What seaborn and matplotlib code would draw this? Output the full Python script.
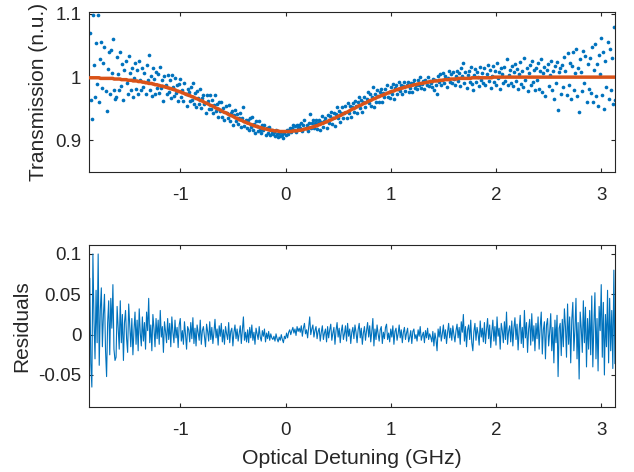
import numpy as np
import pandas as pd
import matplotlib
matplotlib.use("Agg")
import matplotlib.pyplot as plt
import seaborn as sns

# frequency sweep: 500 samples, 10 MHz apart, first sample at -1.86 GHz
sweep_start_ghz = -1.86
sweep_step_ghz = 0.01

# fitted transmission, in units of 1e-3 n.u.
fit_mnu = [
    999, 999, 999, 999, 999, 999, 999, 999, 999, 999, 998, 998, 998, 998, 998, 998, 998, 998, 998, 998, 998, 998, 998, 997, 997,
    997, 997, 997, 997, 997, 996, 996, 996, 996, 996, 996, 995, 995, 995, 995, 995, 994, 994, 994, 994, 994, 993, 993, 993, 993,
    992, 992, 992, 991, 991, 991, 990, 990, 990, 990, 989, 989, 988, 988, 988, 987, 987, 986, 986, 986, 985, 985, 984, 984, 983,
    983, 982, 982, 981, 981, 980, 980, 979, 978, 978, 977, 977, 976, 975, 975, 974, 973, 973, 972, 971, 971, 970, 969, 969, 968,
    967, 966, 966, 965, 964, 963, 963, 962, 961, 960, 959, 959, 958, 957, 956, 955, 955, 954, 953, 952, 951, 950, 950, 949, 948,
    947, 946, 945, 944, 944, 943, 942, 941, 940, 939, 939, 938, 937, 936, 935, 935, 934, 933, 932, 932, 931, 930, 929, 929, 928,
    927, 927, 926, 925, 925, 924, 923, 923, 922, 922, 921, 921, 920, 920, 919, 919, 918, 918, 918, 917, 917, 916, 916, 916, 916,
    915, 915, 915, 915, 915, 914, 914, 914, 914, 914, 914, 914, 914, 914, 914, 914, 914, 914, 915, 915, 915, 915, 915, 916, 916,
    916, 916, 917, 917, 918, 918, 918, 919, 919, 920, 920, 921, 921, 922, 922, 923, 923, 924, 925, 925, 926, 927, 927, 928, 929,
    929, 930, 931, 932, 932, 933, 934, 935, 935, 936, 937, 938, 939, 939, 940, 941, 942, 943, 944, 944, 945, 946, 947, 948, 949,
    950, 950, 951, 952, 953, 954, 955, 955, 956, 957, 958, 959, 959, 960, 961, 962, 963, 963, 964, 965, 966, 966, 967, 968, 969,
    969, 970, 971, 971, 972, 973, 973, 974, 975, 975, 976, 977, 977, 978, 978, 979, 980, 980, 981, 981, 982, 982, 983, 983, 984,
    984, 985, 985, 986, 986, 986, 987, 987, 988, 988, 988, 989, 989, 990, 990, 990, 990, 991, 991, 991, 992, 992, 992, 993, 993,
    993, 993, 994, 994, 994, 994, 994, 995, 995, 995, 995, 995, 996, 996, 996, 996, 996, 996, 997, 997, 997, 997, 997, 997, 997,
    998, 998, 998, 998, 998, 998, 998, 998, 998, 998, 998, 998, 998, 999, 999, 999, 999, 999, 999, 999, 999, 999, 999, 999, 999,
    999, 999, 999, 999, 999, 999, 999, 999, 1000, 1000, 1000, 1000, 1000, 1000, 1000, 1000, 1000, 1000, 1000, 1000, 1000, 1000, 1000, 1000, 1000,
    1000, 1000, 1000, 1000, 1000, 1000, 1000, 1000, 1000, 1000, 1000, 1000, 1000, 1000, 1000, 1000, 1000, 1000, 1000, 1000, 1000, 1000, 1000, 1000, 1000,
    1000, 1000, 1000, 1000, 1000, 1000, 1000, 1000, 1000, 1000, 1000, 1000, 1000, 1000, 1000, 1000, 1000, 1000, 1000, 1000, 1000, 1000, 1000, 1000, 1000,
    1000, 1000, 1000, 1000, 1000, 1000, 1000, 1000, 1000, 1000, 1000, 1000, 1000, 1000, 1000, 1000, 1000, 1000, 1000, 1000, 1000, 1000, 1000, 1000, 1000,
    1000, 1000, 1000, 1000, 1000, 1000, 1000, 1000, 1000, 1000, 1000, 1000, 1000, 1000, 1000, 1000, 1000, 1000, 1000, 1000, 1000, 1000, 1000, 1000, 1000,
]

# measured minus fit, in units of 1e-3 n.u.
residual_mnu = [
    70, -35, -65, 100, 20, -30, 55, -10, 100, -38, 30, 58, -15, 25, 50, -20, -52, 15, 42, -25, 45, 8, 62, -18, -32,
    -28, 35, 8, -18, 42, -10, 25, -32, 15, 30, -5, -22, 38, 12, -15, 20, -25, 5, 28, -12, 18, -20, 32, 2, -14,
    22, -8, 15, -18, 28, 5, 45, -10, 12, -20, 25, 8, -15, 20, -5, 18, -12, 30, -3, 10, -22, 16, 4, -10, 20,
    -6, 14, -15, 22, 3, -10, 18, -4, 9, -16, 12, 20, -8, 5, -12, 16, 0, -18, 10, 6, -9, 15, -5, 21, -11,
    8, -14, 12, 2, -7, 18, -12, 5, 10, -3, -15, 13, 4, -8, 16, -6, 9, -11, 3, 19, -4, 7, -13, 11, -2,
    14, -9, 6, -12, 10, 1, -6, 15, -10, 4, 8, -14, 3, 12, -5, 7, -8, 2, 11, -11, 5, 22, -7, 3, -9,
    6, -10, 9, -4, 12, -7, 3, -12, 8, 1, -6, 10, -3, -8, 5, -2, 7, -9, 2, -5, 4, -7, 1, -4, -6,
    -2, -8, 1, -5, -9, -3, -7, 0, -6, -10, -2, -5, 2, -4, 3, 6, 0, 5, 9, 2, 7, -1, 10, 4, 8,
    3, 11, -2, 8, 14, 1, 6, -4, 9, 22, 0, 7, 12, -3, 5, 10, -5, 4, 8, -8, 3, 11, -6, 2, 7,
    -9, 10, -4, 6, 13, -7, 2, 9, -12, 5, 15, -3, 8, -10, 4, 12, -6, 1, 11, -8, 14, -2, 7, -11, 3,
    9, -5, 12, 3, -10, 6, 14, -4, 8, -12, 2, 10, -7, 5, 15, -3, 11, -9, 4, 20, -14, 7, -6, 12, 1,
    -8, 6, 10, -11, 3, -5, 9, 13, -6, 2, -9, 7, -3, 11, -12, 4, 8, -7, 1, 12, -4, 6, -10, 3, 9,
    -6, 2, 8, -9, -3, 5, -11, 4, 7, -5, 0, -8, 6, -2, 10, -7, -1, 3, -10, 5, -4, 8, -6, 1, -3,
    -9, 4, -14, 2, -6, -20, 7, -3, 10, -8, 1, 12, -5, 6, -11, 3, 14, -4, 8, -7, 11, 0, -9, 5, 13,
    -4, 9, -12, 16, 3, 25, -8, 10, -15, 6, 12, -6, 18, -10, -20, 4, 14, -7, 9, 1, -13, 17, -3, 8, -9,
    15, -11, 6, 20, -5, 12, -16, 3, 18, -8, 10, -13, 22, -2, 8, -18, 14, 5, -10, 16, -6, 28, -12, 4, 11,
    -9, 17, -14, 8, 21, -6, 13, -19, 5, 24, -11, 9, -16, 30, -4, 15, -22, 7, 19, -13, 26, -8, 11, -20, 14,
    -5, 22, -18, 10, 28, -24, 6, 16, -30, 12, 20, -14, 3, 26, -20, 9, -35, 18, -10, 24, -52, 8, 14, -26, 19,
    -15, 32, 10, -28, 38, -12, 22, -35, 18, 40, -20, 6, 45, -30, 15, -55, 28, 8, -22, 42, -10, 34, -40, 20, -18,
    30, -25, 48, -40, 12, 52, -30, 20, -45, 35, 5, 62, -28, 40, -50, 25, -15, 55, -35, 45, -20, 30, -42, 80, -36,
]

x_ticks = [-1, 0, 1, 2, 3]
x_tick_labels = ["-1", "0", "1", "2", "3"]
top_y_ticks = [0.9, 1.0, 1.1]
top_y_tick_labels = ["0.9", "1", "1.1"]
bottom_y_ticks = [-0.05, 0, 0.05, 0.1]
bottom_y_tick_labels = ["-0.05", "0", "0.05", "0.1"]

BLUE = "#0072BD"
ORANGE = "#D95319"
INK = "#262626"

fit = np.array(fit_mnu) / 1000
resid = np.array(residual_mnu) / 1000
detuning = np.round(sweep_start_ghz + sweep_step_ghz * np.arange(len(fit)), 2)
df = pd.DataFrame({
    "detuning": detuning,
    "fit": fit,
    "residual": resid,
    "transmission": fit + resid,
})

sns.set_theme(style="ticks")
plt.rcParams["font.family"] = ["Liberation Sans", "DejaVu Sans"]

fig = plt.figure(figsize=(6.34, 4.72), dpi=100)
ax1 = fig.add_axes([0.1404, 0.6356, 0.830, 0.339])
ax2 = fig.add_axes([0.1404, 0.1377, 0.830, 0.343])

sns.scatterplot(data=df, x="detuning", y="transmission", ax=ax1,
                s=7, color=BLUE, linewidth=0, zorder=2)
sns.lineplot(data=df, x="detuning", y="fit", ax=ax1, color=ORANGE,
             lw=2.5, estimator=None, sort=False, zorder=3)
sns.lineplot(data=df, x="detuning", y="residual", ax=ax2, color=BLUE,
             lw=0.8, estimator=None, sort=False)

ax1.set_ylim(0.85, 1.103)
ax1.set_yticks(top_y_ticks)
ax1.set_yticklabels(top_y_tick_labels)
ax1.set_ylabel("Transmission (n.u.)", fontsize=15, color=INK, labelpad=5)
ax1.set_xlabel("")

ax2.set_ylim(-0.0897, 0.111)
ax2.set_yticks(bottom_y_ticks)
ax2.set_yticklabels(bottom_y_tick_labels)
ax2.set_ylabel("Residuals", fontsize=15, color=INK, labelpad=5)
ax2.set_xlabel("Optical Detuning (GHz)", fontsize=15.3, color=INK, labelpad=7)

for ax in (ax1, ax2):
    ax.set_xlim(-1.867, 3.133)
    ax.set_xticks(x_ticks)
    ax.set_xticklabels(x_tick_labels)
    for sp in ax.spines.values():
        sp.set_visible(True)
        sp.set_color(INK)
        sp.set_linewidth(0.8)
    ax.tick_params(direction="in", top=True, right=True, length=3, width=0.8,
                   color=INK, labelcolor=INK, labelsize=13.5)
    ax.tick_params(axis="x", pad=11)
    ax.tick_params(axis="y", pad=5.5)

fig.savefig("out.png", dpi=100)
plt.close(fig)
